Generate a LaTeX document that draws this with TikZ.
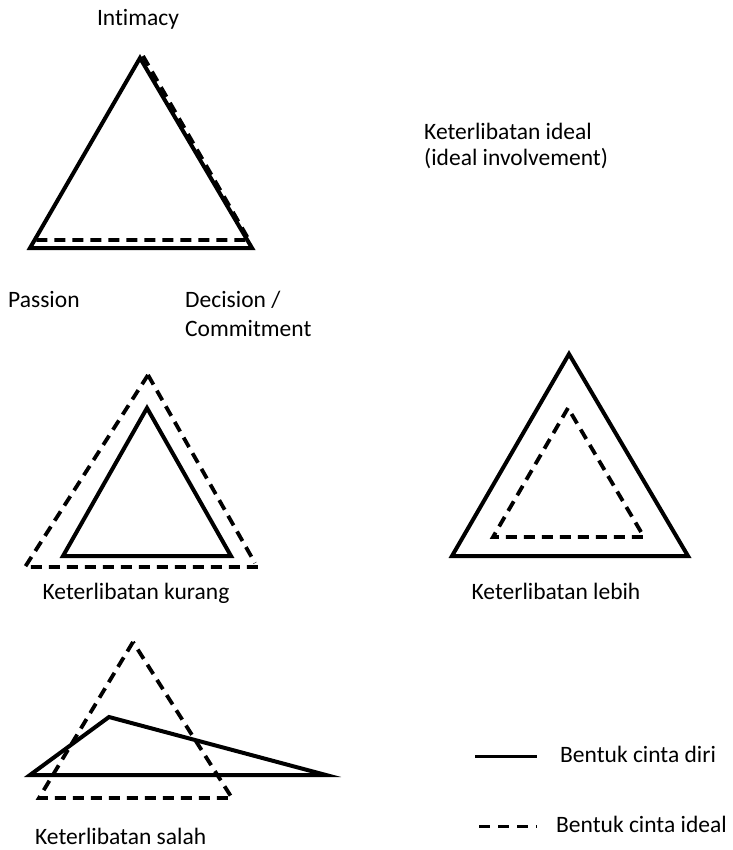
\documentclass[tikz,border=0pt]{standalone}
\usepackage{fontspec}
\setmainfont[Ligatures=NoCommon]{Carlito}
\begin{document}
\begin{tikzpicture}[x=1pt,y=-1pt,
  self/.style={line width=4pt,line join=miter},
  ideal/.style={line width=3.8pt,dash pattern=on 11pt off 7pt},
  lbl/.style={inner sep=0pt,font=\fontsize{23.5}{29}\selectfont},
  lblL/.style={lbl,anchor=base west}]
\useasboundingbox (0,0) rectangle (732,850);

% ideal involvement
\draw[self] (140,58) -- (30,248) -- (252,248) -- cycle;
\draw[ideal] (143,56) -- (249,240) -- (33,240);
\node[lbl,anchor=base] (intim) at (138,26) {Intimacy};
\node[lblL] (pass) at (8,307) {Passion};
\node[lblL] (dec) at (185,307) {Decision /};
\node[lblL] (comm) at (185,336) {Commitment};
\node[lblL] (ideal1) at (424,140) {Keterlibatan ideal};
\node[lblL] (ideal2) at (424,166) {(ideal involvement)};

% too little involvement
\draw[ideal] (148,375) -- (255,563);
\draw[ideal] (148,375) -- (25,567) -- (258,567);
\draw[self] (147,408) -- (63,556) -- (231,556) -- cycle;
\node[lbl,anchor=base] (kur) at (136,599) {Keterlibatan kurang};

% too much involvement
\draw[self] (569,354) -- (452,556) -- (688,556) -- cycle;
\draw[ideal] (568,408) -- (493,537) -- (644,537) -- cycle;
\node[lbl,anchor=base] (leb) at (556,599) {Keterlibatan lebih};

% wrong involvement
\draw[self] (109,717) -- (30,775) -- (326,775) -- cycle;
\draw[ideal] (133,642) -- (39,798) -- (232,798) -- cycle;
\node[lblL] (sal) at (35,844) {Keterlibatan salah};

% legend
\coordinate (s1) at (475,756);
\coordinate (s2) at (537,756);
\coordinate (d1) at (479,826);
\coordinate (d2) at (537,826);
\draw[line width=3pt] (s1) -- (s2);
\draw[line width=3pt,dash pattern=on 11pt off 8pt] (d1) -- (d2);
\node[lblL] (leg1) at (560,762) {Bentuk cinta diri};
\node[lblL] (leg2) at (556,832) {Bentuk cinta ideal};
\end{tikzpicture}
\end{document}
